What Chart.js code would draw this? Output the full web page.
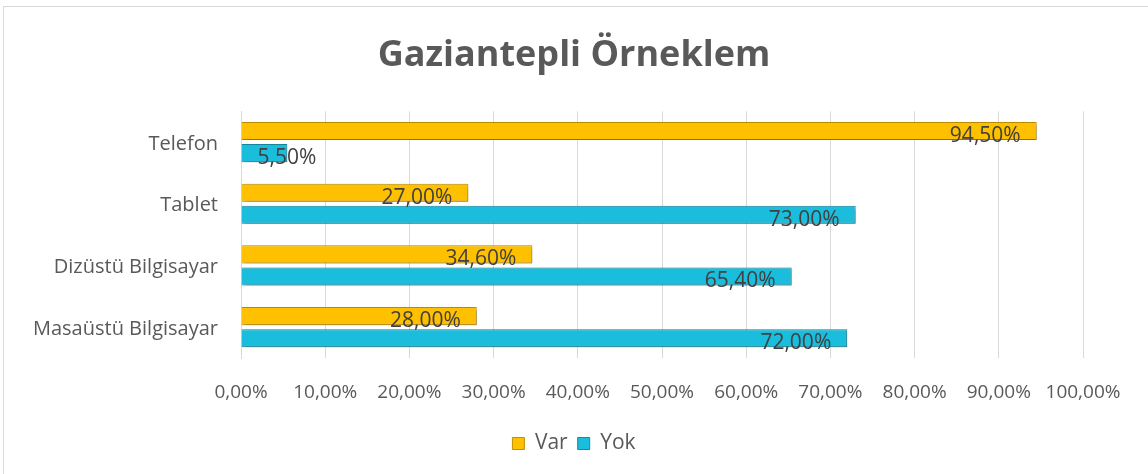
<!DOCTYPE html>
<html>
<head>
<meta charset="utf-8">
<script src="https://cdn.jsdelivr.net/npm/chart.js@4/dist/chart.umd.min.js"></script>
<style>
  html, body { margin: 0; padding: 0; background: #fff; }
  #wrap { width: 1148px; height: 474px; }
</style>
</head>
<body>
<div id="wrap"><canvas id="chart" width="1148" height="474"></canvas></div>
<script>
const categories = ['Telefon', 'Tablet', 'Dizüstü Bilgisayar', 'Masaüstü Bilgisayar'];
const varValues = [94.5, 27.0, 34.6, 28.0];
const yokValues = [5.5, 73.0, 65.4, 72.0];
const xTicks = [0, 10, 20, 30, 40, 50, 60, 70, 80, 90, 100];

const FONT = "'Open Sans', sans-serif";
const fmt = v => v.toFixed(2).replace('.', ',') + '%';

// light frame round the chart
const framePlugin = {
  id: 'frame',
  beforeDraw(chart) {
    const ctx = chart.ctx;
    ctx.save();
    ctx.strokeStyle = '#d9d9d9';
    ctx.lineWidth = 1;
    ctx.strokeRect(3.5, 6.5, chart.width, chart.height);
    ctx.restore();
  }
};

// soft shadow under the bars
const shadowPlugin = {
  id: 'barShadow',
  beforeDatasetsDraw(chart) {
    const ctx = chart.ctx;
    ctx.save();
    ctx.shadowColor = 'rgba(0,0,0,0.28)';
    ctx.shadowBlur = 4;
    ctx.shadowOffsetX = 2;
    ctx.shadowOffsetY = 2;
  },
  afterDatasetsDraw(chart) {
    chart.ctx.restore();
  }
};

// value labels at the inside end of each bar
const labelPlugin = {
  id: 'valueLabels',
  afterDatasetsDraw(chart) {
    const ctx = chart.ctx;
    ctx.save();
    ctx.font = '21px ' + FONT;
    ctx.fillStyle = '#404040';
    ctx.textBaseline = 'middle';
    ctx.textAlign = 'left';
    chart.data.datasets.forEach((ds, i) => {
      chart.getDatasetMeta(i).data.forEach((bar, j) => {
        const txt = fmt(ds.data[j]);
        const w = ctx.measureText(txt).width;
        let x = bar.x - 16 - w;
        if (x < bar.base + 16) x = bar.base + 16;
        ctx.fillText(txt, x, bar.y + 5);
      });
    });
    ctx.restore();
  }
};

new Chart(document.getElementById('chart'), {
  type: 'bar',
  data: {
    labels: categories,
    datasets: [
      {
        label: 'Var',
        data: varValues,
        backgroundColor: '#ffc000',
        borderColor: '#bf9000',
        borderWidth: 1,
        categoryPercentage: 0.716,
        barPercentage: 0.82
      },
      {
        label: 'Yok',
        data: yokValues,
        backgroundColor: '#1bbddc',
        borderColor: '#168aa0',
        borderWidth: 1,
        categoryPercentage: 0.716,
        barPercentage: 0.82
      }
    ]
  },
  options: {
    indexAxis: 'y',
    responsive: false,
    animation: false,
    layout: { padding: { left: 0, right: 0, top: 0, bottom: 10 } },
    scales: {
      x: {
        min: 0,
        max: 100,
        afterBuildTicks(scale) {
          scale.ticks = xTicks.map(v => ({ value: v }));
        },
        afterFit(scale) { scale.height = 65; },
        grid: { color: '#d9d9d9', drawTicks: false },
        border: { display: false },
        ticks: {
          padding: 23,
          color: '#595959',
          font: { family: FONT, size: 19 },
          callback: v => fmt(v)
        }
      },
      y: {
        afterFit(scale) { scale.width = 241; },
        grid: { display: false, drawTicks: false },
        border: { display: true, color: '#d9d9d9' },
        ticks: {
          padding: 23,
          labelOffset: 2,
          color: '#595959',
          font: { family: FONT, size: 20 }
        }
      },
      // empty right-hand axis that only reserves space
      yRight: {
        type: 'category',
        axis: 'y',
        position: 'right',
        afterFit(scale) { scale.width = 65; },
        grid: { display: false, drawTicks: false },
        border: { display: false },
        ticks: { display: false }
      }
    },
    plugins: {
      title: {
        display: true,
        text: 'Gaziantepli Örneklem',
        color: '#595959',
        font: { family: FONT, size: 36, weight: 'bold' },
        padding: { top: 34, bottom: 34 }
      },
      legend: {
        position: 'bottom',
        labels: {
          color: '#595959',
          font: { family: FONT, size: 21 },
          boxWidth: 12,
          boxHeight: 12,
          padding: 10
        }
      },
      tooltip: { enabled: false }
    }
  },
  plugins: [framePlugin, shadowPlugin, labelPlugin]
});
</script>
</body>
</html>
